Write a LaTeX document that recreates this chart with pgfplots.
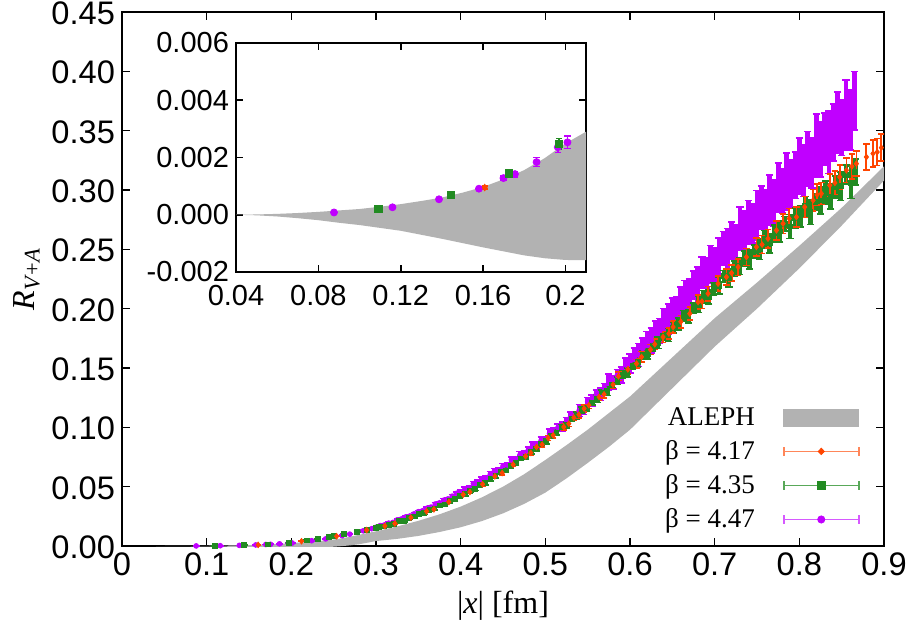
\documentclass[border=0pt]{standalone}
\usepackage{fontspec}
\setmainfont{Liberation Serif}
\setsansfont{Liberation Sans}
\usepackage{pgfplots}
\pgfplotsset{compat=1.18}
\usepackage{pgfplotstable}
\usepgfplotslibrary{fillbetween}

\definecolor{c417}{RGB}{255,69,0}
\definecolor{c435}{RGB}{34,139,34}
\definecolor{c447}{RGB}{192,0,255}
\definecolor{bandgray}{RGB}{178,178,178}

% ALEPH band: x, upper, lower
\pgfplotstableread{
x u l
0.040 0.00000 0.00000
0.050 0.00001 -0.00002
0.060 0.00003 -0.00006
0.070 0.00006 -0.00012
0.080 0.00010 -0.00019
0.090 0.00015 -0.00028
0.100 0.00020 -0.00036
0.110 0.00028 -0.00046
0.120 0.00037 -0.00056
0.130 0.00048 -0.00070
0.140 0.00060 -0.00084
0.150 0.00077 -0.00099
0.160 0.00097 -0.00114
0.170 0.00124 -0.00128
0.180 0.00156 -0.00142
0.190 0.00198 -0.00152
0.200 0.00249 -0.00158
0.210 0.00290 -0.00159
0.220 0.00340 -0.00150
0.230 0.00400 -0.00130
0.240 0.00470 -0.00100
0.250 0.00550 -0.00060
0.260 0.00650 -0.00010
0.270 0.00790 0.00060
0.280 0.00950 0.00150
0.290 0.01090 0.00280
0.300 0.01240 0.00420
0.325 0.01650 0.00600
0.350 0.02120 0.00850
0.375 0.02670 0.01180
0.400 0.03320 0.01580
0.425 0.04100 0.02100
0.450 0.05000 0.02750
0.475 0.06050 0.03550
0.500 0.07250 0.04500
0.525 0.08500 0.05700
0.550 0.09800 0.07000
0.575 0.11200 0.08350
0.600 0.12600 0.09800
0.625 0.14250 0.11550
0.650 0.15900 0.13300
0.675 0.17550 0.15050
0.700 0.19200 0.16800
0.725 0.20700 0.18400
0.750 0.22200 0.20000
0.775 0.23750 0.21700
0.800 0.25300 0.23400
0.825 0.26900 0.25200
0.850 0.28500 0.27000
0.875 0.30250 0.28900
0.900 0.32000 0.30800
}\alephband

% beta = 4.17
\pgfplotstableread{
x y e
0.1608 0.00095 0.00005
0.2120 0.0040 0.0002
0.2535 0.0082 0.0003
0.2890 0.0134 0.0004
0.3105 0.0169 0.0005
0.3223 0.0190 0.0005
0.3412 0.0239 0.0006
0.3597 0.0292 0.0007
0.3684 0.0309 0.0008
0.3861 0.0371 0.0009
0.4030 0.0433 0.0011
0.4109 0.0455 0.0011
0.4259 0.0520 0.0012
0.4404 0.0587 0.0014
0.4490 0.0615 0.0015
0.4620 0.0686 0.0016
0.4766 0.0756 0.0018
0.4829 0.0784 0.0018
0.4896 0.0834 0.0020
0.4963 0.0854 0.0020
0.5033 0.0910 0.0022
0.5093 0.0933 0.0022
0.5218 0.1003 0.0024
0.5277 0.1031 0.0025
0.5337 0.1082 0.0026
0.5396 0.1107 0.0026
0.5458 0.1158 0.0028
0.5514 0.1186 0.0028
0.5635 0.1256 0.0030
0.5694 0.1278 0.0031
0.5800 0.1360 0.0033
0.5864 0.1430 0.0035
0.5974 0.1489 0.0037
0.6077 0.1537 0.0039
0.6136 0.1593 0.0040
0.6242 0.1655 0.0042
0.6293 0.1700 0.0044
0.6390 0.1761 0.0046
0.6460 0.1790 0.0048
0.6509 0.1845 0.0050
0.6600 0.1890 0.0052
0.6706 0.1958 0.0055
0.6804 0.2056 0.0058
0.6850 0.2060 0.0059
0.6922 0.2127 0.0060
0.7040 0.2211 0.0063
0.7139 0.2267 0.0066
0.7200 0.2300 0.0068
0.7277 0.2351 0.0070
0.7375 0.2435 0.0072
0.7493 0.2520 0.0075
0.7560 0.2540 0.0076
0.7630 0.2590 0.0078
0.7730 0.2660 0.0080
0.7808 0.2717 0.0082
0.7880 0.2760 0.0083
0.7966 0.2772 0.0085
0.8064 0.2857 0.0088
0.8162 0.2913 0.0090
0.8210 0.2960 0.0092
0.8260 0.2970 0.0093
0.8359 0.3040 0.0096
0.8420 0.3060 0.0098
0.8477 0.3110 0.0100
0.8556 0.3166 0.0103
0.8620 0.3200 0.0105
0.8674 0.3222 0.0106
0.8792 0.3278 0.0110
0.8870 0.3307 0.0112
0.8920 0.3320 0.0114
0.8969 0.3357 0.0115
}\dataA

% beta = 4.35
\pgfplotstableread{
x y e
0.1093 0.00021 0.00002
0.1443 0.00070 0.00004
0.1726 0.00144 0.00007
0.1969 0.00248 0.00018
0.2180 0.0048 0.0002
0.2310 0.0062 0.0003
0.2444 0.0077 0.0003
0.2500 0.0083 0.0003
0.2620 0.0100 0.0004
0.2778 0.0120 0.0004
0.2890 0.0137 0.0005
0.2999 0.0155 0.0005
0.303 0.0160 0.0007
0.309 0.0165 0.0010
0.315 0.0180 0.0007
0.321 0.0189 0.0011
0.327 0.0209 0.0009
0.333 0.0214 0.0010
0.339 0.0234 0.0009
0.345 0.0249 0.0012
0.351 0.0270 0.0008
0.357 0.0279 0.0013
0.363 0.0302 0.0011
0.369 0.0317 0.0012
0.375 0.0342 0.0011
0.381 0.0350 0.0014
0.387 0.0378 0.0010
0.393 0.0396 0.0016
0.399 0.0422 0.0013
0.405 0.0436 0.0014
0.411 0.0464 0.0013
0.417 0.0484 0.0016
0.423 0.0517 0.0011
0.429 0.0530 0.0018
0.435 0.0565 0.0015
0.441 0.0588 0.0017
0.447 0.0622 0.0015
0.453 0.0638 0.0019
0.459 0.0673 0.0013
0.465 0.0698 0.0021
0.471 0.0739 0.0018
0.477 0.0752 0.0019
0.483 0.0794 0.0017
0.489 0.0823 0.0022
0.495 0.0863 0.0015
0.501 0.0883 0.0024
0.507 0.0927 0.0020
0.513 0.0957 0.0023
0.519 0.1004 0.0020
0.525 0.1020 0.0026
0.531 0.1070 0.0018
0.537 0.1100 0.0030
0.543 0.1145 0.0025
0.549 0.1163 0.0028
0.555 0.1211 0.0025
0.561 0.1240 0.0032
0.567 0.1294 0.0022
0.573 0.1305 0.0036
0.579 0.1360 0.0030
0.585 0.1393 0.0033
0.591 0.1445 0.0029
0.597 0.1463 0.0037
0.603 0.1518 0.0026
0.609 0.1550 0.0043
0.615 0.1612 0.0036
0.621 0.1617 0.0041
0.627 0.1681 0.0036
0.633 0.1712 0.0047
0.639 0.1768 0.0033
0.645 0.1779 0.0054
0.651 0.1840 0.0046
0.657 0.1870 0.0051
0.663 0.1940 0.0045
0.669 0.1935 0.0058
0.675 0.2006 0.0040
0.681 0.2035 0.0066
0.687 0.2097 0.0055
0.693 0.2100 0.0061
0.699 0.2168 0.0054
0.705 0.2195 0.0069
0.711 0.2274 0.0047
0.717 0.2258 0.0077
0.723 0.2337 0.0064
0.729 0.2360 0.0071
0.735 0.2424 0.0062
0.741 0.2414 0.0080
0.747 0.2483 0.0054
0.753 0.2504 0.0089
0.759 0.2586 0.0074
0.765 0.2552 0.0081
0.771 0.2634 0.0071
0.777 0.2651 0.0091
0.783 0.2716 0.0062
0.789 0.2693 0.0100
0.795 0.2763 0.0083
0.801 0.2777 0.0091
0.807 0.2863 0.0081
0.813 0.2814 0.0104
0.819 0.2901 0.0071
0.825 0.2912 0.0116
0.831 0.2981 0.0097
0.837 0.2946 0.0107
0.843 0.3024 0.0094
0.849 0.3033 0.0120
0.855 0.3130 0.0082
0.861 0.3063 0.0134
0.866 0.3152 0.0111
}\dataB

% beta = 4.47
\pgfplotstableread{
x y e
0.0876 0.00008 0.00002
0.1160 0.00026 0.00003
0.1386 0.00054 0.00004
0.1580 0.00091 0.00005
0.1699 0.00128 0.00008
0.1755 0.00142 0.00010
0.1860 0.00184 0.00016
0.1963 0.00236 0.00018
0.2010 0.00253 0.00022
0.2240 0.0045 0.0003
0.2405 0.0060 0.0003
0.2600 0.0087 0.0004
0.2690 0.0100 0.0004
0.2850 0.0128 0.0005
0.2950 0.0146 0.0005
0.300 0.0158 0.0007
0.305 0.0172 0.0006
0.310 0.0178 0.0009
0.315 0.0193 0.0007
0.320 0.0199 0.0009
0.325 0.0220 0.0007
0.330 0.0228 0.0012
0.335 0.0245 0.0009
0.340 0.0253 0.0008
0.345 0.0271 0.0012
0.350 0.0289 0.0010
0.355 0.0297 0.0012
0.360 0.0318 0.0009
0.365 0.0328 0.0015
0.370 0.0354 0.0012
0.375 0.0364 0.0011
0.380 0.0386 0.0014
0.385 0.0397 0.0012
0.390 0.0420 0.0014
0.395 0.0444 0.0011
0.400 0.0454 0.0018
0.405 0.0480 0.0015
0.410 0.0491 0.0013
0.415 0.0526 0.0018
0.420 0.0538 0.0016
0.425 0.0565 0.0019
0.430 0.0576 0.0014
0.435 0.0604 0.0024
0.440 0.0632 0.0020
0.445 0.0642 0.0017
0.450 0.0673 0.0024
0.455 0.0683 0.0020
0.460 0.0725 0.0024
0.465 0.0735 0.0018
0.470 0.0767 0.0031
0.475 0.0777 0.0025
0.480 0.0810 0.0022
0.485 0.0844 0.0030
0.490 0.0852 0.0025
0.495 0.0889 0.0029
0.500 0.0898 0.0022
0.505 0.0950 0.0038
0.510 0.0961 0.0031
0.515 0.0999 0.0028
0.520 0.1008 0.0038
0.525 0.1049 0.0033
0.530 0.1090 0.0039
0.535 0.1095 0.0030
0.540 0.1141 0.0050
0.545 0.1149 0.0041
0.550 0.1216 0.0036
0.555 0.1224 0.0050
0.560 0.1272 0.0043
0.565 0.1278 0.0052
0.570 0.1328 0.0040
0.575 0.1380 0.0068
0.580 0.1379 0.0055
0.585 0.1438 0.0049
0.590 0.1440 0.0067
0.595 0.1526 0.0057
0.600 0.1538 0.0081
0.605 0.1594 0.0075
0.610 0.1610 0.0098
0.615 0.1666 0.0087
0.620 0.1723 0.0085
0.625 0.1732 0.0105
0.630 0.1801 0.0097
0.635 0.1811 0.0106
0.640 0.1902 0.0098
0.645 0.1912 0.0126
0.650 0.1978 0.0111
0.655 0.1989 0.0107
0.660 0.2052 0.0131
0.665 0.2118 0.0121
0.670 0.2118 0.0131
0.675 0.2196 0.0120
0.680 0.2196 0.0154
0.685 0.2304 0.0134
0.690 0.2302 0.0130
0.695 0.2374 0.0158
0.700 0.2372 0.0145
0.705 0.2439 0.0157
0.710 0.2507 0.0142
0.715 0.2492 0.0182
0.720 0.2572 0.0158
0.725 0.2558 0.0152
0.730 0.2673 0.0184
0.735 0.2656 0.0168
0.740 0.2729 0.0182
0.745 0.2716 0.0165
0.750 0.2785 0.0210
0.755 0.2854 0.0182
0.760 0.2827 0.0174
0.765 0.2916 0.0211
0.770 0.2890 0.0192
0.775 0.3019 0.0207
0.780 0.2992 0.0187
0.785 0.3072 0.0238
0.790 0.3050 0.0206
0.795 0.3124 0.0197
0.800 0.3201 0.0238
0.805 0.3163 0.0216
0.810 0.3261 0.0232
0.815 0.3229 0.0210
0.820 0.3375 0.0266
0.825 0.3341 0.0230
0.830 0.3431 0.0219
0.835 0.3403 0.0264
0.840 0.3486 0.0240
0.845 0.3570 0.0257
0.850 0.3524 0.0232
0.855 0.3633 0.0294
0.860 0.3590 0.0253
0.865 0.3752 0.0248
}\dataC

\begin{document}
\begin{tikzpicture}
\begin{axis}[
  at={(0pt,0pt)}, anchor=south west,
  scale only axis, width=381pt, height=267pt,
  xmin=0, xmax=0.9, ymin=0, ymax=0.45,
  xtick={0,0.1,0.2,0.3,0.4,0.5,0.6,0.7,0.8,0.9},
  xticklabels={0,0.1,0.2,0.3,0.4,0.5,0.6,0.7,0.8,0.9},
  ytick={0,0.05,0.1,0.15,0.2,0.25,0.3,0.35,0.4,0.45},
  yticklabels={0.00,0.05,0.10,0.15,0.20,0.25,0.30,0.35,0.40,0.45},
  scaled ticks=false,
  tick align=inside, xtick pos=both, ytick pos=both,
  major tick length=4pt,
  tick style={line width=0.8pt, black},
  axis line style={line width=1.25pt},
  ticklabel style={font=\fontsize{16.3}{18}\selectfont\sffamily},
  yticklabel style={yshift=-0.6pt},
  xlabel={|\textit{x}| [fm]},
  ylabel={\textit{R}\textsubscript{\textit{V}+\textit{A}}},
  label style={font=\fontsize{16}{18}\selectfont},
  xlabel style={at={(axis description cs:0.5,0)}, anchor=center, yshift=-30pt},
  ylabel style={at={(axis description cs:-0.125,0.5)}, anchor=center},
  legend plot pos=right,
  legend cell align=right,
  legend style={at={(axis cs:0.8787,0.006)}, anchor=south east, draw=none, fill=none,
    font=\fontsize{13.5}{15}\selectfont, row sep=2pt,
    /tikz/every odd column/.append style={column sep=12pt}},
]
\addplot[name path=U, draw=none, forget plot] table[x=x,y=u]{\alephband};
\addplot[name path=L, draw=none, forget plot] table[x=x,y=l]{\alephband};
\addplot[fill=bandgray, draw=none, forget plot] fill between[of=U and L];

\addplot[forget plot, only marks, c447, mark=*, mark size=1.2pt,
  mark options={fill=c447, draw=c447},
  error bars/.cd, y dir=both, y explicit,
  error bar style={line width=2.4pt, c447},
  error mark options={rotate=90, line width=0.8pt, mark size=1.8pt, c447}]
  table[x=x, y=y, y error=e]{\dataC};

\addplot[forget plot, only marks, c435, mark=square*, mark size=1.2pt,
  mark options={fill=c435, draw=c435},
  error bars/.cd, y dir=both, y explicit,
  error bar style={line width=2.4pt, c435},
  error mark options={rotate=90, line width=0.8pt, mark size=1.8pt, c435}]
  table[x=x, y=y, y error=e]{\dataB};

\addplot[forget plot, only marks, c417, mark=diamond*, mark size=1.4pt,
  mark options={fill=c417, draw=c417},
  error bars/.cd, y dir=both, y explicit,
  error bar style={line width=0.9pt, c417},
  error mark options={rotate=90, line width=0.8pt, mark size=1.6pt, c417}]
  table[x=x, y=y, y error=e]{\dataA};

\addlegendimage{legend image code/.code={
  \fill[bandgray] (0pt,-4.3pt) rectangle (37.5pt,4.3pt);}}
\addlegendentry{ALEPH}
\addlegendimage{legend image code/.code={
  \draw[c417!65!white, line width=0.8pt] (0pt,0pt)--(37.5pt,0pt) (0pt,-2.2pt)--(0pt,2.2pt) (37.5pt,-2.2pt)--(37.5pt,2.2pt);
  \fill[c417] (17.2pt,0pt) -- (18.75pt,1.6pt) -- (20.3pt,0pt) -- (18.75pt,-1.6pt) -- cycle;}}
\addlegendentry{β = 4.17}
\addlegendimage{legend image code/.code={
  \draw[c435!75!white, line width=0.8pt] (0pt,0pt)--(37.5pt,0pt) (0pt,-2.2pt)--(0pt,2.2pt) (37.5pt,-2.2pt)--(37.5pt,2.2pt);
  \fill[c435] (16.9pt,-1.85pt) rectangle (20.6pt,1.85pt);}}
\addlegendentry{β = 4.35}
\addlegendimage{legend image code/.code={
  \draw[c447!65!white, line width=0.8pt] (0pt,0pt)--(37.5pt,0pt) (0pt,-2.2pt)--(0pt,2.2pt) (37.5pt,-2.2pt)--(37.5pt,2.2pt);
  \fill[c447] (18.75pt,0pt) circle (1.8pt);}}
\addlegendentry{β = 4.47}
\end{axis}

\begin{axis}[
  at={(57pt,251.5pt)}, anchor=north west,
  scale only axis, width=175pt, height=114.5pt,
  xmin=0.04, xmax=0.21, ymin=-0.002, ymax=0.006,
  xtick={0.04,0.08,0.12,0.16,0.2},
  xticklabels={0.04,0.08,0.12,0.16,0.2},
  ytick={-0.002,0,0.002,0.004,0.006},
  yticklabels={-0.002,0.000,0.002,0.004,0.006},
  scaled ticks=false,
  tick align=inside, xtick pos=both, ytick pos=both,
  major tick length=3.5pt,
  tick style={line width=0.8pt, black},
  axis line style={line width=1pt},
  ticklabel style={font=\fontsize{14.5}{16}\selectfont\sffamily},
  xticklabel style={yshift=-3pt},
  axis background/.style={fill=white},
]
\addplot[name path=U2, draw=none] table[x=x,y=u]{\alephband};
\addplot[name path=L2, draw=none] table[x=x,y=l]{\alephband};
\addplot[fill=bandgray, draw=none] fill between[of=U2 and L2];

\addplot[only marks, c447, mark=*, mark size=1.75pt,
  mark options={fill=c447, draw=c447},
  error bars/.cd, y dir=both, y explicit,
  error bar style={line width=0.7pt, c447},
  error mark options={rotate=90, line width=0.7pt, mark size=1.6pt, c447}]
  table[x=x, y=y, y error=e]{\dataC};

\addplot[only marks, c435, mark=square*, mark size=1.9pt,
  mark options={fill=c435, draw=c435},
  error bars/.cd, y dir=both, y explicit,
  error bar style={line width=0.7pt, c435},
  error mark options={rotate=90, line width=0.7pt, mark size=1.6pt, c435}]
  table[x=x, y=y, y error=e]{\dataB};

\addplot[only marks, c417, mark=diamond*, mark size=1.6pt,
  mark options={fill=c417, draw=c417},
  error bars/.cd, y dir=both, y explicit,
  error bar style={line width=0.7pt, c417},
  error mark options={rotate=90, line width=0.7pt, mark size=1.6pt, c417}]
  table[x=x, y=y, y error=e]{\dataA};
\end{axis}
\pgfresetboundingbox
\path[use as bounding box] (-61pt,-44pt) rectangle (395.5pt,273pt);
\end{tikzpicture}
\end{document}
